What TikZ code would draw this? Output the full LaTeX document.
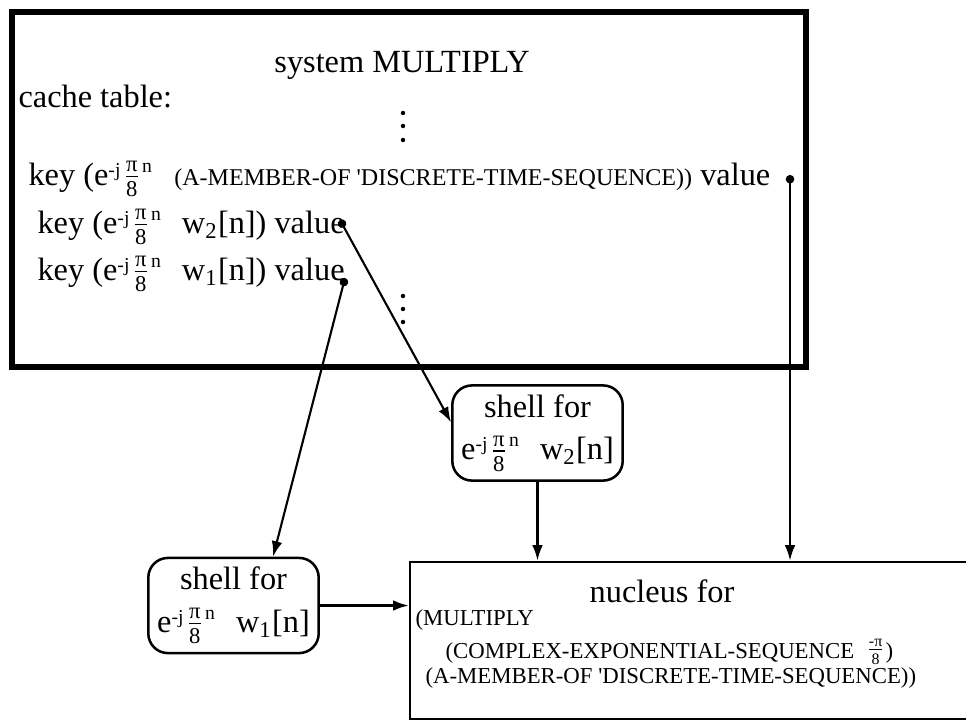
\documentclass[tikz,border=0pt]{standalone}
\usepackage{amsmath}
\usepackage{fontspec}
\setmainfont{Liberation Serif}
\usetikzlibrary{arrows.meta}
\newcommand{\bigtxt}{\fontsize{11.5}{15}\selectfont}
\newcommand{\keycaps}{\fontsize{8.55}{10}\selectfont}
\newcommand{\smalltxt}{\fontsize{8.1}{10}\selectfont}
\newcommand{\ejpi}{e\raisebox{0.6ex}{\fontsize{7}{7}\selectfont -j}\kern0.8pt$\frac{\text{π}}{\text{8}}$\kern0.4pt\raisebox{0.85ex}{\fontsize{7}{7}\selectfont n}}

\begin{document}
\begin{tikzpicture}[
  sysbox/.style={
    draw, line width=1.8pt, minimum width=9.925cm, minimum height=4.4375cm,
    inner sep=0pt
  },
  shellbox/.style={
    draw, line width=0.9pt, rounded corners=7pt, minimum width=2.13cm,
    minimum height=1.19cm, align=center, font=\bigtxt, inner sep=0pt
  },
  nucbox/.style={
    draw, line width=1pt, minimum width=7.375cm, minimum height=1.9625cm,
    inner sep=0pt
  },
  txt/.style={font=\bigtxt, anchor=base west, inner sep=0pt},
  lisp/.style={font=\smalltxt, anchor=base west, inner sep=0pt},
  arr/.style={{Circle[length=3pt]}-{Latex[length=5.5pt, width=3.8pt]}, line width=0.75pt},
  arrin/.style={-{Latex[length=5.5pt, width=3.8pt]}, line width=0.75pt},
]
\useasboundingbox (0,0) rectangle (12.075,9.025);
\clip (0,0) rectangle (12.075,9.025);

%% ---- system MULTIPLY with its cache table ----
\node[sysbox] (sys) at (5.1125,6.65625) {};
\node[font=\bigtxt, anchor=base, inner sep=0pt] (title) at (5.025,8.125) {system MULTIPLY};
\node[txt] (cache) at (0.225,7.6875) {cache table:};
\foreach \y in {7.6125,7.45,7.275}{
  \fill (5.0375,\y) circle (0.028);
}
\node[txt] (key1) at (0.35,6.7125)
  {key (\ejpi\hspace{8pt}{\keycaps(A-MEMBER-OF \textquotesingle DISCRETE-TIME-SEQUENCE))} value};
\node[txt] (key2) at (0.4625,6.1125) {key (\ejpi\hspace{7.5pt}w\textsubscript{2}[n]) value};
\node[txt] (key3) at (0.4625,5.525) {key (\ejpi\hspace{7.5pt}w\textsubscript{1}[n]) value};
\foreach \y in {5.325,5.1625,5.0}{
  \fill (5.0375,\y) circle (0.028);
}
\coordinate (v1) at (9.875,6.8375);
\coordinate (v2) at (4.25,6.275);
\coordinate (v3) at (4.3125,5.55);

%% ---- shells ----
\node[shellbox] (shell2) at (6.71875,3.6125) {shell for\\\ejpi\hspace{7.5pt}w\textsubscript{2}[n]};
\node[shellbox] (shell1) at (2.91875,1.45625) {shell for\\\ejpi\hspace{7.5pt}w\textsubscript{1}[n]};

%% ---- nucleus ----
\node[nucbox] (nuc) at (8.8125,1.01875) {};
\node[font=\bigtxt, anchor=base, inner sep=0pt] (nuctitle) at (8.275,1.5) {nucleus for};
\node[lisp] (form1) at (5.1875,1.2125) {(MULTIPLY};
\node[lisp] (form2) at (5.5625,0.8)
  {(COMPLEX-EXPONENTIAL-SEQUENCE\ \ \raisebox{1pt}{$\frac{\text{-π}}{\text{8}}$})};
\node[lisp] (form3) at (5.3125,0.4875)
  {(A-MEMBER-OF \textquotesingle DISCRETE-TIME-SEQUENCE))};

%% ---- pointers ----
\draw[arr] (v1) -- (v1 |- nuc.north);
\draw[arr] (v2) -- (shell2.173);
\draw[arr] (v3) -- (shell1.51);
\draw[arrin] (shell2.south) -- (shell2.south |- nuc.north);
\draw[arrin] (shell1.east) -- (shell1.east -| nuc.west);

\end{tikzpicture}
\end{document}
